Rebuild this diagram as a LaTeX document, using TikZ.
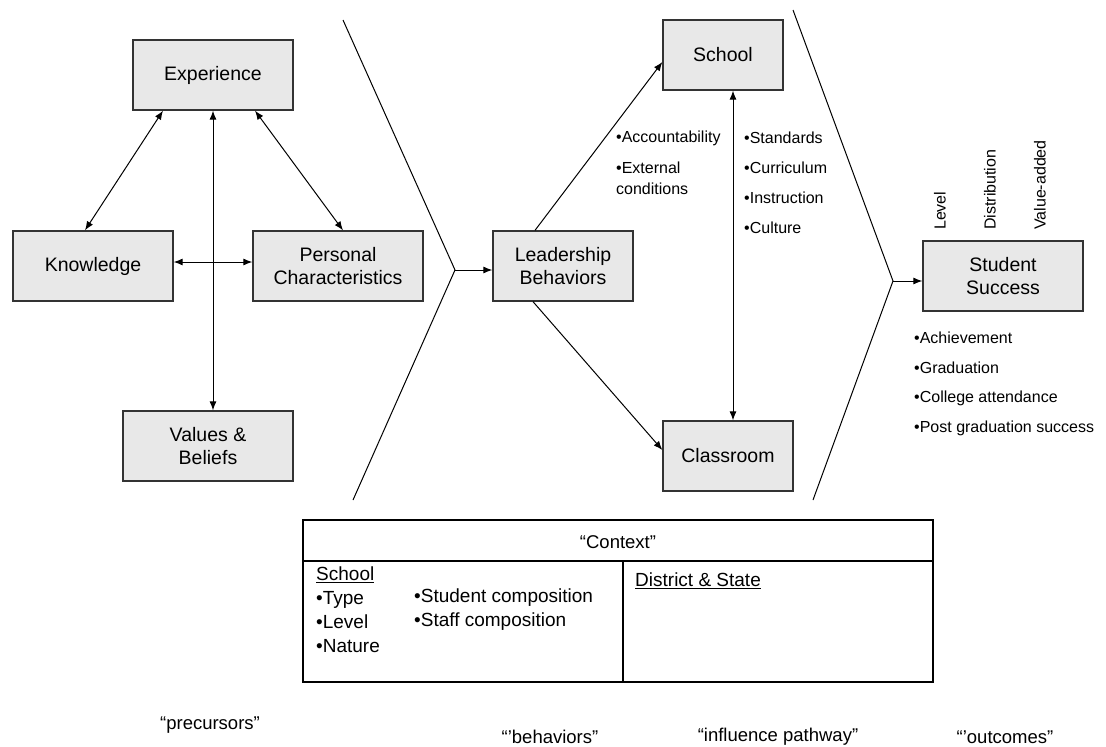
\documentclass[tikz,border=0pt]{standalone}
\usepackage{fontspec}
\setmainfont{Liberation Sans}
\usetikzlibrary{arrows.meta, positioning}

\begin{document}
\begin{tikzpicture}[x=1pt, y=-1pt, >={Latex[length=9pt, width=7pt]}]
  \tikzset{
    box/.style={draw=black!80, line width=1.3pt, fill=gray!18,
      minimum height=70pt, inner sep=2pt, align=center,
      font=\fontsize{19.5}{23.5}\selectfont},
    note/.style={anchor=west, inner sep=0pt, align=left,
      font=\fontsize{16}{21}\selectfont},
    cnote/.style={anchor=west, inner sep=0pt, align=left,
      font=\fontsize{19}{24}\selectfont},
    tag/.style={inner sep=0pt, font=\fontsize{18.5}{22}\selectfont},
    vnote/.style={anchor=west, rotate=90, inner sep=0pt,
      font=\fontsize{16}{20}\selectfont},
    arr/.style={->, line width=1pt},
    darr/.style={<->, line width=1pt},
    chev/.style={line width=1pt},
  }
  \useasboundingbox (0,0) rectangle (1106,747);
  % precursors
  \node[box, minimum width=160pt] (exp)  at (213,75)  {Experience};
  \node[box, minimum width=160pt] (know) at (93,266)  {Knowledge};
  \node[box, minimum width=170pt] (pers) at (338,266) {Personal\\Characteristics};
  \node[box, minimum width=170pt] (vals) at (208,446) {Values \&\\Beliefs};
  % behaviors and pathway
  \node[box, minimum width=140pt] (lead)   at (563,266) {Leadership\\Behaviors};
  \node[box, minimum width=120pt] (school) at (723,55)  {School};
  \node[box, minimum width=130pt] (class)  at (728,456) {Classroom};
  % outcomes
  \node[box, minimum width=160pt] (succ)   at (1003,276) {Student\\Success};
  % Chevrons
  \coordinate (c1) at (455,270);
  \coordinate (c2) at (893,281);
  \draw[chev] (343,20) -- (c1) -- (353,500);
  \draw[chev] (793,10) -- (c2) -- (813,500);
  % Arrows
  \draw[darr] ([xshift=-50pt]exp.south) -- ([xshift=-8pt]know.north);
  \draw[darr] ([xshift=42pt]exp.south) -- ([xshift=5pt]pers.north);
  \draw[darr] (exp.south) -- (exp.south |- vals.north);
  \draw[darr] ([yshift=4pt]know.east) -- ([yshift=4pt]pers.west);
  \draw[arr]  (c1) -- (c1 -| lead.west);
  \draw[arr]  ([xshift=-28pt]lead.north) -- ([yshift=-7pt]school.west);
  \draw[arr]  ([xshift=-30pt]lead.south) -- ([yshift=6pt]class.west);
  \draw[darr] ([xshift=10pt]school.south) -- ([xshift=10pt]school.south |- class.north);
  \draw[arr]  (c2) -- (c2 -| succ.west);
  % Notes
  \node[note] (acc) at (616,138) {•Accountability};
  \node[note] (ext) at (616,178) {•External\\conditions};
  \node[note] (std) at (744,138) {•Standards};
  \node[note] (cur) at (744,168) {•Curriculum};
  \node[note] (ins) at (744,198) {•Instruction};
  \node[note] (cul) at (744,228) {•Culture};
  \node[vnote] (lvl) at (940,230) {Level};
  \node[vnote] (dst) at (990,230) {Distribution};
  \node[vnote] (vad) at (1040,230) {Value-added};
  \node[note] (ach) at (914,338) {•Achievement};
  \node[note] (grd) at (914,368) {•Graduation};
  \node[note] (col) at (914,398) {•College attendance};
  \node[note] (pgs) at (914,428) {•Post graduation success};
  % Context
  \draw[line width=1.3pt] (303,520) rectangle (933,682);
  \draw[line width=1.3pt] (303,561) -- (933,561);
  \draw[line width=1.3pt] (623,561) -- (623,682);
  \node[tag] (ctx) at (618,542) {“Context”};
  \node[cnote, anchor=north west] (sch) at (316,567)
    {\underline{School}\\•Type\\•Level\\•Nature};
  \node[cnote, anchor=north west] (cmp) at (414,589)
    {•Student composition\\•Staff composition};
  \node[cnote, anchor=north west] (dis) at (635,573) {\underline{District \& State}};
  % Stage labels
  \node[tag] (pre) at (210,725)  {“precursors”};
  \node[tag] (beh) at (550,737)  {“'behaviors”};
  \node[tag] (inf) at (778,737)  {“influence pathway”};
  \node[tag] (out) at (1005,737) {“'outcomes”};
\end{tikzpicture}
\end{document}
